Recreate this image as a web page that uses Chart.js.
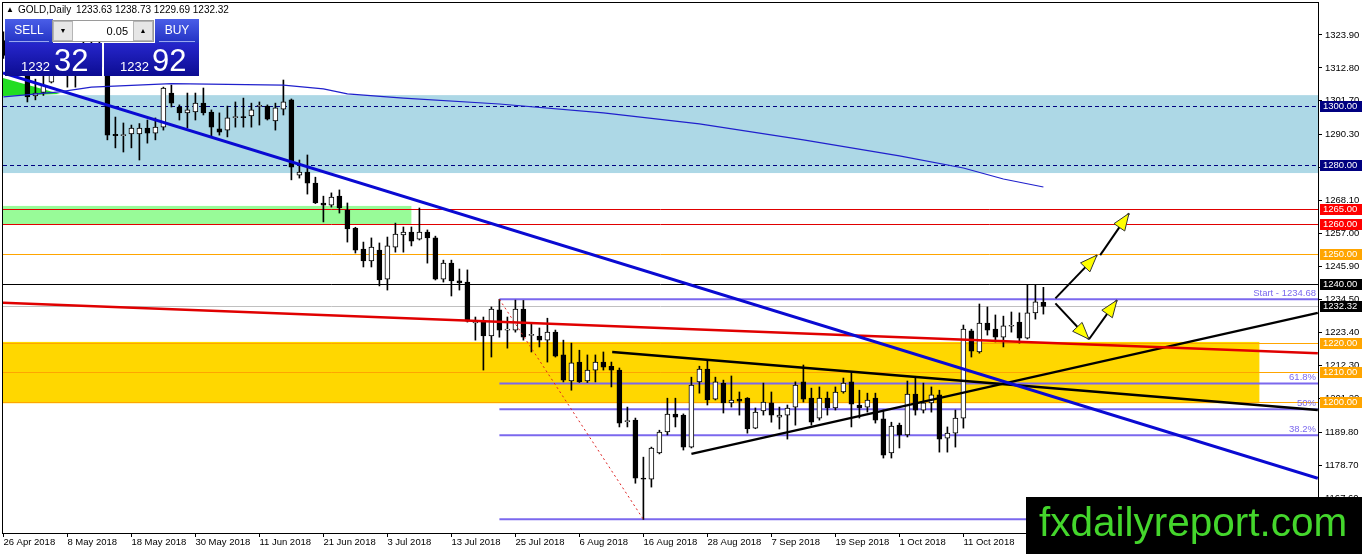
<!DOCTYPE html>
<html lang="en">
<head>
<meta charset="UTF-8" />
<title>GOLD, Daily</title>
<script src="https://cdn.jsdelivr.net/npm/chart.js"></script>
<style>
  html, body { margin: 0; padding: 0; background: #fff; }
  #wrap { width: 1362px; height: 554px; position: relative; }
</style>
</head>
<body>
<div id="wrap"><canvas id="chart"></canvas></div>
<script>
// daily candles, 26 Apr 2018 .. 25 Oct 2018 (bar index 0..130)
const opens = [1322.0,1317.0,1322.0,1315.0,1303.3,1304.5,1308.0,1314.0,1313.0,1313.5,
  1312.5,1321.0,1319.0,1313.0,1290.4,1289.9,1290.5,1290.5,1292.5,1290.8,
  1292.8,1304.3,1299.6,1297.6,1297.9,1300.9,1297.9,1292.2,1291.8,1296.0,
  1296.4,1296.6,1299.8,1299.9,1294.9,1298.9,1302.0,1276.6,1277.6,1273.9,
  1267.2,1266.5,1269.5,1264.8,1258.7,1251.6,1247.6,1251.3,1241.5,1252.3,
  1256.4,1257.4,1255.0,1257.4,1255.4,1241.5,1246.9,1240.9,1240.5,1226.7,
  1227.3,1222.3,1231.1,1224.3,1224.3,1231.4,1222.5,1222.3,1220.9,1223.6,
  1215.9,1207.1,1213.5,1207.1,1210.8,1213.5,1212.1,1210.8,1193.4,1193.9,
  1174.3,1174.0,1182.8,1189.9,1195.9,1195.6,1184.8,1206.8,1211.1,1201.0,
  1206.4,1199.7,1201.0,1201.3,1191.2,1197.0,1199.7,1194.9,1195.6,1198.3,
  1206.8,1201.3,1194.6,1201.3,1198.0,1203.4,1206.8,1199.0,1198.3,1201.3,
  1194.3,1182.8,1192.2,1188.9,1202.7,1197.3,1199.7,1202.4,1187.8,1189.5,
  1194.6,1224.0,1216.9,1226.7,1224.6,1221.9,1225.6,1227.0,1221.6,1230.1,
  1233.63];
const highs = [1325.0,1324.0,1326.0,1317.0,1309.0,1313.0,1318.0,1317.0,1316.0,1318.0,
  1326.0,1325.0,1322.0,1314.0,1296.2,1294.2,1293.5,1294.0,1295.2,1295.9,
  1306.3,1307.0,1300.3,1304.3,1304.3,1306.0,1298.6,1297.6,1299.9,1301.3,
  1302.6,1300.9,1301.3,1300.3,1300.9,1308.7,1302.3,1281.7,1283.4,1275.9,
  1269.5,1270.6,1271.6,1267.2,1259.0,1254.0,1255.4,1253.7,1255.7,1260.4,
  1259.1,1259.1,1265.5,1258.1,1256.0,1247.9,1247.9,1244.9,1244.6,1228.7,
  1228.7,1232.1,1234.68,1228.7,1234.4,1234.3,1226.7,1225.0,1228.3,1224.3,
  1220.9,1219.9,1217.5,1215.9,1215.9,1216.9,1213.5,1211.5,1198.3,1194.6,
  1181.4,1184.8,1190.5,1201.3,1201.3,1196.0,1208.4,1212.1,1214.2,1208.4,
  1207.4,1208.8,1203.4,1201.5,1198.0,1206.4,1203.4,1198.3,1199.0,1206.8,
  1212.5,1204.7,1205.1,1203.4,1205.1,1208.1,1210.1,1204.0,1203.0,1203.0,
  1197.3,1193.2,1192.9,1207.1,1208.1,1206.4,1205.1,1204.0,1191.6,1197.3,
  1226.0,1224.6,1233.1,1232.1,1229.4,1229.0,1230.4,1230.1,1239.5,1239.5,
  1238.73];
const lows = [1316.0,1314.0,1312.0,1301.3,1302.0,1303.5,1307.7,1310.5,1306.3,1306.3,
  1312.0,1316.0,1310.5,1288.5,1285.8,1284.4,1285.8,1281.7,1287.4,1288.5,
  1291.8,1299.6,1295.2,1292.5,1295.2,1296.9,1289.5,1290.1,1289.5,1292.8,
  1292.8,1292.8,1293.5,1295.2,1291.8,1296.9,1275.0,1275.6,1270.2,1267.0,
  1260.8,1265.8,1263.8,1254.0,1250.3,1245.6,1245.6,1239.2,1237.8,1250.6,
  1250.6,1252.7,1254.7,1246.9,1241.2,1240.5,1235.8,1237.8,1227.0,1220.9,
  1210.8,1215.2,1221.9,1218.2,1223.6,1220.9,1216.9,1218.6,1213.5,1215.2,
  1206.8,1204.0,1206.6,1206.6,1206.8,1210.8,1205.1,1191.6,1191.6,1172.6,
  1160.4,1171.3,1182.5,1188.9,1191.6,1183.8,1184.5,1203.0,1199.0,1200.7,
  1196.3,1198.3,1195.6,1189.5,1191.0,1195.6,1193.2,1190.9,1187.5,1192.2,
  1200.0,1192.2,1193.9,1195.6,1197.3,1203.0,1191.6,1194.6,1196.6,1192.9,
  1181.1,1181.1,1184.5,1188.2,1195.6,1196.3,1196.6,1183.1,1183.1,1184.8,
  1191.2,1215.2,1216.5,1222.6,1220.3,1218.6,1223.6,1219.9,1221.3,1228.0,
  1229.69];
const closes = [1317.0,1322.0,1315.0,1303.0,1304.3,1307.0,1314.0,1313.0,1313.5,1312.5,
  1321.0,1319.0,1313.0,1290.1,1289.9,1290.3,1292.5,1292.5,1290.8,1292.8,
  1306.0,1300.9,1297.6,1298.6,1300.9,1297.6,1292.8,1291.1,1295.9,1296.3,
  1296.0,1298.6,1300.0,1295.5,1299.3,1301.3,1279.3,1277.6,1273.9,1267.2,
  1266.5,1269.2,1265.5,1258.4,1251.3,1247.6,1252.3,1241.2,1252.7,1256.7,
  1257.4,1254.3,1257.4,1255.4,1241.5,1246.9,1240.9,1240.2,1227.3,1226.8,
  1222.3,1231.4,1224.3,1224.5,1231.4,1221.9,1222.7,1220.9,1223.6,1215.5,
  1207.4,1213.2,1206.8,1210.8,1213.5,1211.8,1210.8,1192.9,1193.6,1174.3,
  1174.0,1184.5,1189.9,1195.9,1194.9,1184.8,1205.7,1211.1,1200.7,1206.8,
  1199.7,1200.7,1200.3,1190.9,1196.6,1200.0,1195.6,1195.6,1198.0,1205.7,
  1201.0,1193.2,1201.3,1198.0,1203.4,1206.4,1199.3,1198.0,1200.7,1193.9,
  1182.1,1191.9,1188.9,1202.7,1197.3,1199.7,1202.4,1187.5,1189.5,1194.6,
  1224.6,1217.2,1226.7,1224.3,1221.9,1225.7,1225.8,1221.6,1230.1,1233.8,
  1232.32];

// time axis labels (one every 8 bars)
const dateIdx = [0, 8, 16, 24, 32, 40, 48, 56, 64, 72, 80, 88, 96, 104, 112, 120];
const dateLabels = ["26 Apr 2018", "8 May 2018", "18 May 2018", "30 May 2018", "11 Jun 2018",
  "21 Jun 2018", "3 Jul 2018", "13 Jul 2018", "25 Jul 2018", "6 Aug 2018", "16 Aug 2018",
  "28 Aug 2018", "7 Sep 2018", "19 Sep 2018", "1 Oct 2018", "11 Oct 2018"];
const priceTicks = [1323.9, 1312.8, 1301.7, 1290.3, 1279.2, 1268.1, 1257.0, 1245.9,
  1234.5, 1223.4, 1212.3, 1201.2, 1189.8, 1178.7, 1167.6];

// moving average (sampled along the bars)
const maIdx = [0, 7, 11, 21, 35, 40, 43, 50, 62, 75, 87, 100, 112, 120, 125, 130];
const maVals = [1303.0, 1304.7, 1306.3, 1307.5, 1307.0, 1305.7, 1304.0, 1302.6, 1300.6,
  1297.6, 1293.9, 1288.5, 1283.1, 1279.0, 1275.3, 1272.6];

// drawn objects: [barIndex, price]
const blueTrend = [[-0.05, 1311.1], [164.3, 1174.3]];
const redTrend = [[-0.05, 1233.5], [164.3, 1216.5]];
const triUpper = [[76.1, 1216.9], [164.3, 1197.3]];
const triLower = [[86, 1182.5], [164.3, 1230.1]];
const greenTri = [[-0.05, 1309.4], [-0.05, 1303.3], [7.1, 1304.0]];

// fibonacci retracement
const fibStartIdx = 62, fibEndIdx = 80;
const fibHigh = 1234.68, fibLow = 1160.4;
const fibLevels = [0, 0.382, 0.5, 0.618, 1];
const fibLabels = ["", "38.2%", "50%", "61.8%", "Start - 1234.68"];

// rectangles
const zoneTops = [1303.6, 1266.2, 1220.3];
const zoneBottoms = [1277.3, 1260.1, 1199.6];
const zoneEnds = [null, 51, 157];
const zoneColors = ["#add8e6", "#98fb98", "#ffd700"];

// horizontal levels
const levelPrices = [1300, 1280, 1265, 1260, 1250, 1240, 1232.32, 1220, 1210, 1200];
const levelKinds = ["navy", "navy", "red", "red", "orange", "black", "bid", "orange", "orange", "orange"];
const levelStyle = {
  navy: { line: "#000080", dash: [4, 3], box: "#000080", text: "#fff" },
  red: { line: "#e00000", box: "#ff0000", text: "#fff" },
  orange: { line: "#ffa500", box: "#ffa500", text: "#fff" },
  black: { line: "#000000", box: "#000000", text: "#fff" },
  bid: { line: "#c0c0c0", box: "#000000", text: "#fff" },
};

// forecast arrows
const arrowFrom = [[131.5, 1235.0], [137.1, 1249.6], [131.5, 1233.3], [135.7, 1221.2]];
const arrowTo = [[136.7, 1249.6], [140.7, 1263.7], [135.7, 1221.2], [139.2, 1234.4]];

const FONT = '"Liberation Sans", Arial, sans-serif';
const idx = opens.map((_, i) => i);
const up = idx.map((i) => closes[i] >= opens[i]);

const seg = (pts) => pts.map(([x, y]) => ({ x, y }));
const lineDs = (pts, color, width, dash) => ({
  type: "line", data: seg(pts), borderColor: color, borderWidth: width,
  borderDash: dash || [], pointRadius: 0, fill: false, tension: 0, order: -1,
});

const datasets = [
  {
    type: "bar", label: "wicks", order: 2, grouped: false,
    data: idx.map((i) => ({ x: i, y: [lows[i], highs[i]] })),
    backgroundColor: "#000", barThickness: 1, minBarLength: 1,
  },
  {
    type: "bar", label: "bodies", order: 1, grouped: false,
    data: idx.map((i) => ({ x: i, y: [Math.min(opens[i], closes[i]), Math.max(opens[i], closes[i])] })),
    backgroundColor: idx.map((i) => (up[i] ? "#fff" : "#000")),
    borderColor: "#000", borderWidth: 1, borderSkipped: false,
    barThickness: 5, minBarLength: 1,
  },
  lineDs(maIdx.map((v, k) => [v, maVals[k]]), "#2020cc", 1.2),
  lineDs(blueTrend, "#0a0ad2", 3),
  lineDs(redTrend, "#e00000", 2.5),
  lineDs(triUpper, "#000", 2.5),
  lineDs(triLower, "#000", 2.5),
  lineDs([[fibStartIdx, fibHigh], [fibEndIdx, fibLow]], "#dd2222", 1, [2, 3]),
];
arrowFrom.forEach((p, k) => datasets.push(lineDs([p, arrowTo[k]], "#000", 2)));

function strokeLine(ctx, x0, y0, x1, y1) {
  ctx.beginPath(); ctx.moveTo(x0, y0); ctx.lineTo(x1, y1); ctx.stroke();
}

function vGrad(ctx, y0, y1, c0, c1) {
  const g = ctx.createLinearGradient(0, y0, 0, y1);
  g.addColorStop(0, c0); g.addColorStop(1, c1);
  return g;
}

const mt4Overlay = {
  id: "mt4Overlay",
  beforeDatasetsDraw(chart) {
    const { ctx, chartArea: a, scales: { x, y } } = chart;
    ctx.save();
    ctx.beginPath(); ctx.rect(a.left, a.top, a.right - a.left, a.bottom - a.top); ctx.clip();

    zoneTops.forEach((t, k) => {
      const x1 = zoneEnds[k] == null ? a.right : x.getPixelForValue(zoneEnds[k]);
      const yt = y.getPixelForValue(t), yb = y.getPixelForValue(zoneBottoms[k]);
      ctx.fillStyle = zoneColors[k];
      ctx.fillRect(a.left, yt, x1 - a.left, yb - yt);
    });

    ctx.fillStyle = "#22dd22";
    ctx.beginPath();
    greenTri.forEach(([i, p], k) => {
      const px = x.getPixelForValue(i), py = y.getPixelForValue(p);
      k ? ctx.lineTo(px, py) : ctx.moveTo(px, py);
    });
    ctx.closePath(); ctx.fill();

    ctx.lineWidth = 1;
    levelPrices.forEach((p, k) => {
      const st = levelStyle[levelKinds[k]];
      const py = Math.round(y.getPixelForValue(p)) + 0.5;
      ctx.strokeStyle = st.line;
      ctx.setLineDash(st.dash || []);
      strokeLine(ctx, a.left, py, a.right, py);
    });
    ctx.setLineDash([]);

    const fx = x.getPixelForValue(fibStartIdx);
    ctx.font = "9.5px " + FONT;
    ctx.textAlign = "right"; ctx.textBaseline = "alphabetic";
    fibLevels.forEach((r, k) => {
      const py = y.getPixelForValue(fibLow + r * (fibHigh - fibLow));
      ctx.strokeStyle = "#7b68ee"; ctx.lineWidth = 2;
      strokeLine(ctx, fx, py, a.right, py);
      if (fibLabels[k]) {
        ctx.fillStyle = "#7b68ee";
        ctx.fillText(fibLabels[k], a.right - 2, py - 3);
      }
    });
    ctx.restore();
  },
  afterDatasetsDraw(chart) {
    const { ctx, scales: { x, y } } = chart;
    ctx.save();
    arrowTo.forEach(([i, p], k) => {
      const [i0, p0] = arrowFrom[k];
      const tx = x.getPixelForValue(i), ty = y.getPixelForValue(p);
      const sx = x.getPixelForValue(i0), sy = y.getPixelForValue(p0);
      const len = Math.hypot(tx - sx, ty - sy);
      const ux = (tx - sx) / len, uy = (ty - sy) / len;
      const L = 17, W = 6.5;
      ctx.beginPath();
      ctx.moveTo(tx, ty);
      ctx.lineTo(tx - L * ux - W * uy, ty - L * uy + W * ux);
      ctx.lineTo(tx - L * ux + W * uy, ty - L * uy - W * ux);
      ctx.closePath();
      ctx.fillStyle = "#ffff00"; ctx.fill();
      ctx.strokeStyle = "#333"; ctx.lineWidth = 1; ctx.stroke();
    });
    ctx.restore();
  },
  afterDraw(chart) {
    const { ctx, chartArea: a, scales: { y } } = chart;
    ctx.save();

    // frame
    ctx.strokeStyle = "#000"; ctx.lineWidth = 1;
    ctx.strokeRect(a.left - 0.5, a.top - 0.5, a.right - a.left + 1, a.bottom - a.top + 1);

    // price boxes on the axis
    ctx.font = "9.5px " + FONT;
    ctx.textAlign = "left"; ctx.textBaseline = "middle";
    levelPrices.forEach((p, k) => {
      const st = levelStyle[levelKinds[k]];
      const py = Math.round(y.getPixelForValue(p));
      ctx.fillStyle = st.box;
      ctx.fillRect(a.right + 2, py - 5, 44, 11);
      ctx.fillStyle = st.text;
      ctx.fillText(p.toFixed(2), a.right + 5, py + 0.5);
    });

    // title
    ctx.fillStyle = "#000";
    ctx.font = "8px " + FONT;
    ctx.fillText("\u25B2", 6, 10);
    ctx.font = "10px " + FONT;
    ctx.fillText("GOLD,Daily", 18, 10);
    ctx.fillText("1233.63 1238.73 1229.69 1232.32", 76, 10);

    // one-click trading panel
    ctx.fillStyle = vGrad(ctx, 19, 43, "#4a5ee8", "#2232c4");
    ctx.fillRect(5, 19, 48, 24);
    ctx.fillRect(155, 19, 44, 24);
    ctx.fillStyle = "#fff";
    ctx.fillRect(52, 20, 102, 22);
    ctx.strokeStyle = "#9a9a9a";
    ctx.strokeRect(52.5, 20.5, 101, 21);
    ctx.fillStyle = "#e6e6e6";
    ctx.fillRect(53, 21, 20, 20);
    ctx.fillRect(133, 21, 20, 20);
    ctx.strokeStyle = "#b5b5b5";
    ctx.strokeRect(53.5, 21.5, 19, 19);
    ctx.strokeRect(133.5, 21.5, 19, 19);
    ctx.fillStyle = "#000";
    ctx.textAlign = "center";
    ctx.font = "7px " + FONT;
    ctx.fillText("\u25BC", 63, 31);
    ctx.fillText("\u25B2", 143, 31);
    ctx.font = "11px " + FONT;
    ctx.textAlign = "right";
    ctx.fillText("0.05", 128, 31.5);
    ctx.textAlign = "center";
    ctx.font = "12px " + FONT;
    ctx.fillStyle = "#fff";
    ctx.fillText("SELL", 29, 31);
    ctx.fillText("BUY", 177, 31);
    ctx.strokeStyle = "#9aa6f0";
    strokeLine(ctx, 9, 41.5, 49, 41.5);
    strokeLine(ctx, 159, 41.5, 195, 41.5);

    ctx.fillStyle = vGrad(ctx, 43, 76, "#2626cc", "#0c0c92");
    ctx.fillRect(5, 43, 97, 33);
    ctx.fillRect(104, 43, 95, 33);
    ctx.fillStyle = "#fff";
    ctx.textAlign = "left"; ctx.textBaseline = "alphabetic";
    ctx.font = "13px " + FONT;
    ctx.fillText("1232", 21, 71);
    ctx.fillText("1232", 120, 71);
    ctx.font = "31px " + FONT;
    ctx.fillText("32", 54, 71);
    ctx.fillText("92", 152, 71);

    // watermark
    ctx.fillStyle = "#000";
    ctx.fillRect(1026, 497, 336, 57);
    ctx.fillStyle = "#44d62c";
    ctx.font = "40.5px " + FONT;
    ctx.fillText("fxdailyreport.com", 1039, 536);
    ctx.restore();
  },
};

new Chart(document.getElementById("chart"), {
  type: "bar",
  data: { datasets },
  plugins: [mt4Overlay],
  options: {
    responsive: true,
    maintainAspectRatio: false,
    devicePixelRatio: 1,
    animation: false,
    events: [],
    layout: { padding: { left: 3, top: 3, right: 0, bottom: 0 } },
    plugins: { legend: { display: false }, tooltip: { enabled: false } },
    scales: {
      x: {
        type: "linear", offset: false,
        min: -0.05, max: 164.325,
        afterBuildTicks: (s) => { s.ticks = dateIdx.map((v) => ({ value: v })); },
        afterFit: (s) => { s.height = 21; s.paddingLeft = 0; s.paddingRight = 0; },
        grid: { drawOnChartArea: false, offset: false, tickLength: 4, color: "#000" },
        border: { display: false },
        ticks: {
          autoSkip: false, maxRotation: 0, align: "start", padding: 0,
          color: "#000", font: { family: FONT, size: 9.5 },
          callback: (v, i) => dateLabels[i],
        },
      },
      y: {
        position: "right",
        min: 1155.8, max: 1334.7,
        afterBuildTicks: (s) => { s.ticks = priceTicks.map((v) => ({ value: v })); },
        afterFit: (s) => { s.width = 44; s.paddingTop = 0; s.paddingBottom = 0; },
        grid: { drawOnChartArea: false, tickLength: 4, color: "#000" },
        border: { display: false },
        ticks: {
          padding: 3, color: "#000", font: { family: FONT, size: 9.5 },
          callback: (v) => Number(v).toFixed(2),
        },
      },
    },
  },
});
</script>
</body>
</html>
